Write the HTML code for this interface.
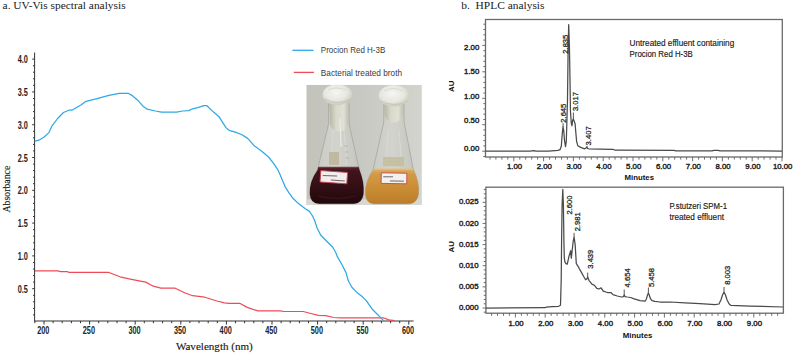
<!DOCTYPE html>
<html><head><meta charset="utf-8"><style>
html,body{margin:0;padding:0;background:#fff;}
body{width:793px;height:355px;overflow:hidden;}
svg{display:block;}
.ser{font-family:"Liberation Serif",serif;fill:#1a1a1a;stroke:#1a1a1a;stroke-width:0.15px;}
.tl{font-family:"Liberation Sans",sans-serif;font-weight:bold;font-size:11px;fill:#222;}
.lg{font-family:"Liberation Sans",sans-serif;font-size:9.2px;fill:#3a3a3a;}
.hl{font-family:"Liberation Sans",sans-serif;font-size:7.8px;fill:#222;stroke:#222;stroke-width:0.4px;}
.hb{font-family:"Liberation Sans",sans-serif;font-size:7.8px;font-weight:bold;fill:#111;}
.pk{font-family:"Liberation Sans",sans-serif;font-size:7.6px;fill:#222;stroke:#222;stroke-width:0.25px;}
.hg{font-family:"Liberation Sans",sans-serif;font-size:8.4px;fill:#1a1a1a;stroke:#1a1a1a;stroke-width:0.15px;}
.fr{fill:none;stroke:#6a6a6a;stroke-width:1.3;}
.tk{stroke:#606060;stroke-width:0.9;}
</style></head><body>
<svg width="793" height="355" viewBox="0 0 793 355">
<rect width="793" height="355" fill="#fff"/>
<!-- titles -->
<text x="2.6" y="9.4" class="ser" font-size="11.4px" style="stroke-width:0" textLength="123" lengthAdjust="spacingAndGlyphs">a. UV-Vis spectral analysis</text>
<text x="461.3" y="9.4" class="ser" font-size="11.4px" style="stroke-width:0" textLength="83.2" lengthAdjust="spacingAndGlyphs" xml:space="preserve">b.  HPLC analysis</text>

<!-- LEFT CHART -->
<g stroke="#333" stroke-width="1">
<line x1="34.6" y1="52.5" x2="34.6" y2="321.5"/>
<line x1="34.5" y1="321" x2="413.6" y2="321"/>
<line x1="33" y1="314.9" x2="34.6" y2="314.9"/>
<line x1="33" y1="308.4" x2="34.6" y2="308.4"/>
<line x1="33" y1="301.8" x2="34.6" y2="301.8"/>
<line x1="33" y1="295.3" x2="34.6" y2="295.3"/>
<line x1="32.2" y1="288.7" x2="34.6" y2="288.7"/>
<line x1="33" y1="282.1" x2="34.6" y2="282.1"/>
<line x1="33" y1="275.6" x2="34.6" y2="275.6"/>
<line x1="33" y1="269.0" x2="34.6" y2="269.0"/>
<line x1="33" y1="262.5" x2="34.6" y2="262.5"/>
<line x1="32.2" y1="255.9" x2="34.6" y2="255.9"/>
<line x1="33" y1="249.3" x2="34.6" y2="249.3"/>
<line x1="33" y1="242.8" x2="34.6" y2="242.8"/>
<line x1="33" y1="236.2" x2="34.6" y2="236.2"/>
<line x1="33" y1="229.7" x2="34.6" y2="229.7"/>
<line x1="32.2" y1="223.1" x2="34.6" y2="223.1"/>
<line x1="33" y1="216.5" x2="34.6" y2="216.5"/>
<line x1="33" y1="210.0" x2="34.6" y2="210.0"/>
<line x1="33" y1="203.4" x2="34.6" y2="203.4"/>
<line x1="33" y1="196.9" x2="34.6" y2="196.9"/>
<line x1="32.2" y1="190.3" x2="34.6" y2="190.3"/>
<line x1="33" y1="183.7" x2="34.6" y2="183.7"/>
<line x1="33" y1="177.2" x2="34.6" y2="177.2"/>
<line x1="33" y1="170.6" x2="34.6" y2="170.6"/>
<line x1="33" y1="164.1" x2="34.6" y2="164.1"/>
<line x1="32.2" y1="157.5" x2="34.6" y2="157.5"/>
<line x1="33" y1="150.9" x2="34.6" y2="150.9"/>
<line x1="33" y1="144.4" x2="34.6" y2="144.4"/>
<line x1="33" y1="137.8" x2="34.6" y2="137.8"/>
<line x1="33" y1="131.3" x2="34.6" y2="131.3"/>
<line x1="32.2" y1="124.7" x2="34.6" y2="124.7"/>
<line x1="33" y1="118.1" x2="34.6" y2="118.1"/>
<line x1="33" y1="111.6" x2="34.6" y2="111.6"/>
<line x1="33" y1="105.0" x2="34.6" y2="105.0"/>
<line x1="33" y1="98.5" x2="34.6" y2="98.5"/>
<line x1="32.2" y1="91.9" x2="34.6" y2="91.9"/>
<line x1="33" y1="85.3" x2="34.6" y2="85.3"/>
<line x1="33" y1="78.8" x2="34.6" y2="78.8"/>
<line x1="33" y1="72.2" x2="34.6" y2="72.2"/>
<line x1="33" y1="65.7" x2="34.6" y2="65.7"/>
<line x1="32.2" y1="59.1" x2="34.6" y2="59.1"/>
<line x1="34.9" y1="321" x2="34.9" y2="323.2"/>
<line x1="44.0" y1="321" x2="44.0" y2="324.6"/>
<line x1="53.1" y1="321" x2="53.1" y2="323.2"/>
<line x1="62.2" y1="321" x2="62.2" y2="323.2"/>
<line x1="71.4" y1="321" x2="71.4" y2="323.2"/>
<line x1="80.5" y1="321" x2="80.5" y2="323.2"/>
<line x1="89.6" y1="321" x2="89.6" y2="324.6"/>
<line x1="98.7" y1="321" x2="98.7" y2="323.2"/>
<line x1="107.8" y1="321" x2="107.8" y2="323.2"/>
<line x1="117.0" y1="321" x2="117.0" y2="323.2"/>
<line x1="126.1" y1="321" x2="126.1" y2="323.2"/>
<line x1="135.2" y1="321" x2="135.2" y2="324.6"/>
<line x1="144.3" y1="321" x2="144.3" y2="323.2"/>
<line x1="153.4" y1="321" x2="153.4" y2="323.2"/>
<line x1="162.6" y1="321" x2="162.6" y2="323.2"/>
<line x1="171.7" y1="321" x2="171.7" y2="323.2"/>
<line x1="180.8" y1="321" x2="180.8" y2="324.6"/>
<line x1="189.9" y1="321" x2="189.9" y2="323.2"/>
<line x1="199.0" y1="321" x2="199.0" y2="323.2"/>
<line x1="208.2" y1="321" x2="208.2" y2="323.2"/>
<line x1="217.3" y1="321" x2="217.3" y2="323.2"/>
<line x1="226.4" y1="321" x2="226.4" y2="324.6"/>
<line x1="235.5" y1="321" x2="235.5" y2="323.2"/>
<line x1="244.6" y1="321" x2="244.6" y2="323.2"/>
<line x1="253.8" y1="321" x2="253.8" y2="323.2"/>
<line x1="262.9" y1="321" x2="262.9" y2="323.2"/>
<line x1="272.0" y1="321" x2="272.0" y2="324.6"/>
<line x1="281.1" y1="321" x2="281.1" y2="323.2"/>
<line x1="290.2" y1="321" x2="290.2" y2="323.2"/>
<line x1="299.4" y1="321" x2="299.4" y2="323.2"/>
<line x1="308.5" y1="321" x2="308.5" y2="323.2"/>
<line x1="317.6" y1="321" x2="317.6" y2="324.6"/>
<line x1="326.7" y1="321" x2="326.7" y2="323.2"/>
<line x1="335.8" y1="321" x2="335.8" y2="323.2"/>
<line x1="345.0" y1="321" x2="345.0" y2="323.2"/>
<line x1="354.1" y1="321" x2="354.1" y2="323.2"/>
<line x1="363.2" y1="321" x2="363.2" y2="324.6"/>
<line x1="372.3" y1="321" x2="372.3" y2="323.2"/>
<line x1="381.4" y1="321" x2="381.4" y2="323.2"/>
<line x1="390.6" y1="321" x2="390.6" y2="323.2"/>
<line x1="399.7" y1="321" x2="399.7" y2="323.2"/>
<line x1="408.8" y1="321" x2="408.8" y2="324.6"/>
</g>
<text x="27.9" y="63.2" text-anchor="end" class="tl" transform="translate(28 0) scale(0.665 1) translate(-28 0)">4.0</text>
<text x="27.9" y="96.0" text-anchor="end" class="tl" transform="translate(28 0) scale(0.665 1) translate(-28 0)">3.5</text>
<text x="27.9" y="128.8" text-anchor="end" class="tl" transform="translate(28 0) scale(0.665 1) translate(-28 0)">3.0</text>
<text x="27.9" y="161.6" text-anchor="end" class="tl" transform="translate(28 0) scale(0.665 1) translate(-28 0)">2.5</text>
<text x="27.9" y="194.4" text-anchor="end" class="tl" transform="translate(28 0) scale(0.665 1) translate(-28 0)">2.0</text>
<text x="27.9" y="227.2" text-anchor="end" class="tl" transform="translate(28 0) scale(0.665 1) translate(-28 0)">1.5</text>
<text x="27.9" y="260.0" text-anchor="end" class="tl" transform="translate(28 0) scale(0.665 1) translate(-28 0)">1.0</text>
<text x="27.9" y="292.8" text-anchor="end" class="tl" transform="translate(28 0) scale(0.665 1) translate(-28 0)">0.5</text>
<text x="43.3" y="334" text-anchor="middle" class="tl" transform="translate(43.3 0) scale(0.665 1) translate(-43.3 0)">200</text>
<text x="88.9" y="334" text-anchor="middle" class="tl" transform="translate(88.9 0) scale(0.665 1) translate(-88.9 0)">250</text>
<text x="134.5" y="334" text-anchor="middle" class="tl" transform="translate(134.5 0) scale(0.665 1) translate(-134.5 0)">300</text>
<text x="180.1" y="334" text-anchor="middle" class="tl" transform="translate(180.1 0) scale(0.665 1) translate(-180.1 0)">350</text>
<text x="225.7" y="334" text-anchor="middle" class="tl" transform="translate(225.7 0) scale(0.665 1) translate(-225.7 0)">400</text>
<text x="271.3" y="334" text-anchor="middle" class="tl" transform="translate(271.3 0) scale(0.665 1) translate(-271.3 0)">450</text>
<text x="316.9" y="334" text-anchor="middle" class="tl" transform="translate(316.9 0) scale(0.665 1) translate(-316.9 0)">500</text>
<text x="362.5" y="334" text-anchor="middle" class="tl" transform="translate(362.5 0) scale(0.665 1) translate(-362.5 0)">550</text>
<text x="408.1" y="334" text-anchor="middle" class="tl" transform="translate(408.1 0) scale(0.665 1) translate(-408.1 0)">600</text>
<text transform="translate(10.3 212.6) rotate(-90)" class="ser" font-size="10.3px" textLength="46.9" lengthAdjust="spacingAndGlyphs">Absorbance</text>
<text x="175.9" y="350.4" class="ser" font-size="11.1px" textLength="76.9" lengthAdjust="spacingAndGlyphs">Wavelength (nm)</text>

<polyline points="35.0,270.9 58.2,270.9 60.3,271.6 67.3,271.6 68.7,272.3 108.2,272.3 120.1,276.8 129.1,278.9 136.6,280.4 145.7,282.1 153.3,286.2 160.9,288.2 175.2,288.2 185.1,293.0 192.6,295.7 204.7,297.2 216.9,301.0 224.4,302.8 229.1,303.3 239.7,303.3 247.2,307.4 257.8,310.9 280.5,310.9 283.6,311.5 303.2,311.5 310.8,313.5 318.4,315.4 325.9,315.7 333.5,317.5 340.0,317.9 383.1,317.8 389.0,319.9 394.5,320.6" fill="none" stroke="#ee4b57" stroke-width="1.2" stroke-linejoin="round"/>
<polyline points="35.0,141.1 38.9,140.2 43.8,137.2 48.7,132.9 51.7,126.4 57.6,118.5 63.5,112.5 69.4,110.0 72.4,110.0 81.3,104.7 85.2,101.7 97.0,98.7 108.9,95.4 119.1,93.3 128.2,93.3 132.7,95.9 138.0,100.4 142.5,105.7 147.1,109.2 155.4,111.0 161.5,112.1 176.6,112.1 182.6,111.0 188.7,110.6 192.5,108.8 197.8,107.7 203.8,105.7 206.9,105.7 213.6,112.1 219.0,116.7 222.9,122.9 226.0,127.6 229.1,130.3 235.3,132.2 241.5,134.5 247.7,138.4 253.9,145.4 261.8,151.3 268.5,157.0 273.0,162.6 277.6,169.3 279.8,173.9 282.1,179.5 285.5,187.4 289.5,193.6 292.9,198.3 298.5,203.6 305.3,208.7 309.2,211.1 312.6,216.0 314.8,221.0 317.2,228.2 320.8,235.3 326.7,241.3 332.7,247.3 335.5,252.0 337.5,256.9 342.3,265.2 345.9,272.4 348.3,280.8 351.9,287.3 357.6,293.1 362.7,297.1 366.5,300.9 369.0,304.7 372.8,309.8 377.3,314.3 380.5,317.4 383.6,320.6" fill="none" stroke="#2ea9e5" stroke-width="1.25" stroke-linejoin="round"/>

<!-- legend -->
<line x1="292.4" y1="50.3" x2="313.5" y2="50.3" stroke="#2ea9e5" stroke-width="1.3"/>
<text x="320.8" y="53" class="lg" textLength="64.5" lengthAdjust="spacingAndGlyphs">Procion Red H-3B</text>
<line x1="293.8" y1="72.4" x2="313.9" y2="72.4" stroke="#ee4b57" stroke-width="1.3"/>
<text x="320.8" y="75.5" class="lg" textLength="81.3" lengthAdjust="spacingAndGlyphs">Bacterial treated broth</text>

<!-- PHOTO -->
<defs>
<linearGradient id="pbg" x1="0" y1="0" x2="1" y2="0">
<stop offset="0" stop-color="#c3c3bc"/><stop offset="0.45" stop-color="#c8c8c2"/><stop offset="1" stop-color="#d4d4cf"/>
</linearGradient>
<linearGradient id="liq1" x1="0" y1="0" x2="0" y2="1">
<stop offset="0" stop-color="#5c2630"/><stop offset="0.1" stop-color="#42141c"/><stop offset="0.55" stop-color="#330e15"/><stop offset="1" stop-color="#20080b"/>
</linearGradient>
<linearGradient id="liq2" x1="0" y1="0" x2="0" y2="1">
<stop offset="0" stop-color="#ddb068"/><stop offset="0.15" stop-color="#d29b46"/><stop offset="0.6" stop-color="#c98b33"/><stop offset="1" stop-color="#bd7c2a"/>
</linearGradient>
<radialGradient id="cot" cx="0.45" cy="0.4" r="0.62">
<stop offset="0" stop-color="#f5f5f1"/><stop offset="0.6" stop-color="#e8e8e2"/><stop offset="1" stop-color="#c8cabc"/>
</radialGradient>
<linearGradient id="neck" x1="0" y1="0" x2="1" y2="0">
<stop offset="0" stop-color="#b3b5a2"/><stop offset="0.35" stop-color="#d8d8cb"/><stop offset="0.75" stop-color="#e0e0d4"/><stop offset="1" stop-color="#c0c1b1"/>
</linearGradient>
<linearGradient id="glass" x1="0" y1="0" x2="1" y2="0">
<stop offset="0" stop-color="#bdbdb6"/><stop offset="0.2" stop-color="#cdcdc7"/><stop offset="0.5" stop-color="#d3d3cd"/><stop offset="0.8" stop-color="#cacac4"/><stop offset="1" stop-color="#bcbcb5"/>
</linearGradient>
<clipPath id="pclip"><rect x="306.3" y="84.8" width="115.6" height="120.3"/></clipPath>
</defs>
<g clip-path="url(#pclip)">
<rect x="306.3" y="84.8" width="115.6" height="120.3" fill="url(#pbg)"/>
<rect x="306.3" y="199.5" width="115.6" height="6" fill="#d8d8d3"/>
<!-- flask 1 glass body -->
<path d="M328.6 104 L349 104 L349 124 L359.5 170 Q364.5 182 363.5 194 Q362 203.5 354 203.8 L319 203.8 Q310.5 203.5 309.8 194 Q309 182 317.5 170 L328.6 124 Z" fill="url(#glass)" stroke="#a2a29b" stroke-width="0.7"/>
<path d="M333 130 L331 165 M344 130 L346.5 165" stroke="#dadad5" stroke-width="0.8"/>
<!-- flask 1 liquid -->
<path d="M318.2 167 L358.8 167 L359.5 170 Q364.5 182 363.5 194 Q362 203.5 354 203.8 L319 203.8 Q310.5 203.5 309.8 194 Q309 182 317.5 170 Z" fill="url(#liq1)"/>
<path d="M318.4 167.2 L358.6 167.2" stroke="#7a4a55" stroke-width="0.8"/>
<path d="M318 196 Q336 201 356 196" stroke="#4a1a26" stroke-width="1.2" fill="none" opacity="0.6"/>
<!-- flask1 neck cotton -->
<path d="M329.2 102 L348.5 102 L348.4 124 Q346 132 339 131.5 Q331.5 131 330 124 Z" fill="url(#neck)"/>
<path d="M339.8 118 L341.2 147" stroke="#ececE8" stroke-width="1.1"/>
<!-- flask1 cotton top -->
<ellipse cx="337.4" cy="94.6" rx="14.8" ry="10.3" fill="url(#cot)"/>
<path d="M324.5 99 Q337 106 351 99" stroke="#c5c7b9" stroke-width="1" fill="none"/>
<path d="M328 90 Q336 86 346 90" stroke="#d3d4c9" stroke-width="0.8" fill="none"/>
<!-- flask 1 glass details -->
<rect x="329" y="152" width="10" height="13" fill="#b9b093" opacity="0.75"/>
<path d="M344 146 L348 146 M345 152 L348.5 152 M345.5 158 L349.5 158" stroke="#a8a398" stroke-width="0.6"/>
<!-- label 1 -->
<g transform="rotate(4 333.8 177.2)">
<rect x="320.4" y="171.5" width="26.8" height="11.4" fill="#f2eeee" stroke="#c94452" stroke-width="0.9"/>
<path d="M322.6 176.3 L337 175.8 M331 180.2 L345 180.2" stroke="#4a3a3a" stroke-width="0.75"/>
</g>
<!-- flask 2 glass body -->
<path d="M383.8 104 L404 104 L404 122 L413.5 170 Q419.5 182 418.5 194 Q417 203.5 409 203.8 L374 203.8 Q366 203.5 365.5 194 Q365 182 373 170 L383.8 122 Z" fill="url(#glass)" stroke="#a2a29b" stroke-width="0.7"/>
<path d="M388 130 L386 165 M399 130 L401.5 165" stroke="#dadad5" stroke-width="0.8"/>
<!-- flask2 liquid -->
<path d="M373.3 168.8 L413.3 168.8 L413.5 170 Q419.5 182 418.5 194 Q417 203.5 409 203.8 L374 203.8 Q366 203.5 365.5 194 Q365 182 373 170 Z" fill="url(#liq2)"/>
<path d="M373.4 169.1 L413.2 169.1" stroke="#e9c98a" stroke-width="0.9"/>
<!-- flask2 neck cotton -->
<path d="M384 102 L403 102 L402.8 114 Q401 122.8 393.5 122.6 Q386 122.4 384.6 114 Z" fill="url(#neck)"/>
<!-- flask2 cotton top -->
<ellipse cx="393.9" cy="95.8" rx="15.3" ry="10.8" fill="url(#cot)"/>
<path d="M379.5 101 Q394 108 408.5 101" stroke="#c5c7b9" stroke-width="1" fill="none"/>
<path d="M384 91 Q393 86 403 91" stroke="#d3d4c9" stroke-width="0.8" fill="none"/>
<rect x="383" y="157" width="21" height="9.2" fill="#c2b996" opacity="0.75"/>
<!-- label 2 -->
<g transform="rotate(1 394 178.2)">
<rect x="381.2" y="173" width="25.6" height="10.6" fill="#f3f0f0" stroke="#c94452" stroke-width="0.9"/>
<path d="M383.2 177 L393 176.8 M390 181 L404 181" stroke="#4a3a3a" stroke-width="0.75"/>
</g>
</g>


<!-- HPLC TOP -->
<rect x="485.5" y="19.5" width="296.79999999999995" height="137.5" class="fr"/>
<line x1="483.3" y1="156.5" x2="485.5" y2="156.5" class="tk"/>
<line x1="482.2" y1="151.2" x2="485.5" y2="151.2" class="tk"/>
<line x1="483.3" y1="145.9" x2="485.5" y2="145.9" class="tk"/>
<line x1="483.3" y1="140.6" x2="485.5" y2="140.6" class="tk"/>
<line x1="483.3" y1="135.3" x2="485.5" y2="135.3" class="tk"/>
<line x1="483.3" y1="130.0" x2="485.5" y2="130.0" class="tk"/>
<line x1="482.2" y1="124.7" x2="485.5" y2="124.7" class="tk"/>
<line x1="483.3" y1="119.5" x2="485.5" y2="119.5" class="tk"/>
<line x1="483.3" y1="114.2" x2="485.5" y2="114.2" class="tk"/>
<line x1="483.3" y1="108.9" x2="485.5" y2="108.9" class="tk"/>
<line x1="483.3" y1="103.6" x2="485.5" y2="103.6" class="tk"/>
<line x1="482.2" y1="98.3" x2="485.5" y2="98.3" class="tk"/>
<line x1="483.3" y1="93.0" x2="485.5" y2="93.0" class="tk"/>
<line x1="483.3" y1="87.7" x2="485.5" y2="87.7" class="tk"/>
<line x1="483.3" y1="82.4" x2="485.5" y2="82.4" class="tk"/>
<line x1="483.3" y1="77.1" x2="485.5" y2="77.1" class="tk"/>
<line x1="482.2" y1="71.8" x2="485.5" y2="71.8" class="tk"/>
<line x1="483.3" y1="66.6" x2="485.5" y2="66.6" class="tk"/>
<line x1="483.3" y1="61.3" x2="485.5" y2="61.3" class="tk"/>
<line x1="483.3" y1="56.0" x2="485.5" y2="56.0" class="tk"/>
<line x1="483.3" y1="50.7" x2="485.5" y2="50.7" class="tk"/>
<line x1="482.2" y1="45.4" x2="485.5" y2="45.4" class="tk"/>
<line x1="483.3" y1="40.1" x2="485.5" y2="40.1" class="tk"/>
<line x1="483.3" y1="34.8" x2="485.5" y2="34.8" class="tk"/>
<line x1="483.3" y1="29.5" x2="485.5" y2="29.5" class="tk"/>
<line x1="483.3" y1="24.2" x2="485.5" y2="24.2" class="tk"/>
<line x1="490.0" y1="157.0" x2="490.0" y2="159.6" class="tk"/>
<line x1="495.9" y1="157.0" x2="495.9" y2="159.6" class="tk"/>
<line x1="501.9" y1="157.0" x2="501.9" y2="159.6" class="tk"/>
<line x1="507.8" y1="157.0" x2="507.8" y2="159.6" class="tk"/>
<line x1="513.8" y1="157.0" x2="513.8" y2="161.3" class="tk"/>
<line x1="519.8" y1="157.0" x2="519.8" y2="159.6" class="tk"/>
<line x1="525.7" y1="157.0" x2="525.7" y2="159.6" class="tk"/>
<line x1="531.7" y1="157.0" x2="531.7" y2="159.6" class="tk"/>
<line x1="537.6" y1="157.0" x2="537.6" y2="159.6" class="tk"/>
<line x1="543.6" y1="157.0" x2="543.6" y2="161.3" class="tk"/>
<line x1="549.6" y1="157.0" x2="549.6" y2="159.6" class="tk"/>
<line x1="555.5" y1="157.0" x2="555.5" y2="159.6" class="tk"/>
<line x1="561.5" y1="157.0" x2="561.5" y2="159.6" class="tk"/>
<line x1="567.4" y1="157.0" x2="567.4" y2="159.6" class="tk"/>
<line x1="573.4" y1="157.0" x2="573.4" y2="161.3" class="tk"/>
<line x1="579.4" y1="157.0" x2="579.4" y2="159.6" class="tk"/>
<line x1="585.3" y1="157.0" x2="585.3" y2="159.6" class="tk"/>
<line x1="591.3" y1="157.0" x2="591.3" y2="159.6" class="tk"/>
<line x1="597.2" y1="157.0" x2="597.2" y2="159.6" class="tk"/>
<line x1="603.2" y1="157.0" x2="603.2" y2="161.3" class="tk"/>
<line x1="609.2" y1="157.0" x2="609.2" y2="159.6" class="tk"/>
<line x1="615.1" y1="157.0" x2="615.1" y2="159.6" class="tk"/>
<line x1="621.1" y1="157.0" x2="621.1" y2="159.6" class="tk"/>
<line x1="627.0" y1="157.0" x2="627.0" y2="159.6" class="tk"/>
<line x1="633.0" y1="157.0" x2="633.0" y2="161.3" class="tk"/>
<line x1="639.0" y1="157.0" x2="639.0" y2="159.6" class="tk"/>
<line x1="644.9" y1="157.0" x2="644.9" y2="159.6" class="tk"/>
<line x1="650.9" y1="157.0" x2="650.9" y2="159.6" class="tk"/>
<line x1="656.8" y1="157.0" x2="656.8" y2="159.6" class="tk"/>
<line x1="662.8" y1="157.0" x2="662.8" y2="161.3" class="tk"/>
<line x1="668.8" y1="157.0" x2="668.8" y2="159.6" class="tk"/>
<line x1="674.7" y1="157.0" x2="674.7" y2="159.6" class="tk"/>
<line x1="680.7" y1="157.0" x2="680.7" y2="159.6" class="tk"/>
<line x1="686.6" y1="157.0" x2="686.6" y2="159.6" class="tk"/>
<line x1="692.6" y1="157.0" x2="692.6" y2="161.3" class="tk"/>
<line x1="698.6" y1="157.0" x2="698.6" y2="159.6" class="tk"/>
<line x1="704.5" y1="157.0" x2="704.5" y2="159.6" class="tk"/>
<line x1="710.5" y1="157.0" x2="710.5" y2="159.6" class="tk"/>
<line x1="716.4" y1="157.0" x2="716.4" y2="159.6" class="tk"/>
<line x1="722.4" y1="157.0" x2="722.4" y2="161.3" class="tk"/>
<line x1="728.4" y1="157.0" x2="728.4" y2="159.6" class="tk"/>
<line x1="734.3" y1="157.0" x2="734.3" y2="159.6" class="tk"/>
<line x1="740.3" y1="157.0" x2="740.3" y2="159.6" class="tk"/>
<line x1="746.2" y1="157.0" x2="746.2" y2="159.6" class="tk"/>
<line x1="752.2" y1="157.0" x2="752.2" y2="161.3" class="tk"/>
<line x1="758.2" y1="157.0" x2="758.2" y2="159.6" class="tk"/>
<line x1="764.1" y1="157.0" x2="764.1" y2="159.6" class="tk"/>
<line x1="770.1" y1="157.0" x2="770.1" y2="159.6" class="tk"/>
<line x1="776.0" y1="157.0" x2="776.0" y2="159.6" class="tk"/>
<line x1="782.0" y1="157.0" x2="782.0" y2="161.3" class="tk"/>
<polyline points="485.5,151.2 530.0,151.2 532.0,150.8 534.0,150.7 536.0,151.2 548.0,151.2 552.0,150.8 558.0,150.4 560.0,149.7 561.3,146.3 562.3,133.3 563.0,126.8 563.7,130.3 564.5,140.3 565.5,146.7 566.3,141.3 567.5,100.3 568.1,50.4 568.7,24.6 569.4,45.4 570.1,85.3 570.4,110.3 571.3,123.3 572.0,125.8 572.6,120.8 573.3,118.9 574.2,121.3 575.1,123.8 575.8,132.3 576.6,141.3 577.9,145.8 580.7,147.4 584.6,148.8 586.2,147.9 586.9,147.2 587.6,148.5 589.2,149.0 600.0,149.2 613.0,149.3 615.0,150.2 674.0,150.4 676.0,150.9 712.0,150.9 714.0,150.4 718.0,150.4 720.0,150.9 782.0,151.0" fill="none" stroke="#4a4a4a" stroke-width="1.25" stroke-linejoin="round"/>

<!-- HPLC BOTTOM -->
<rect x="485.9" y="187.2" width="297.5" height="126.0" class="fr"/>
<line x1="483.7" y1="312.2" x2="485.9" y2="312.2" class="tk"/>
<line x1="482.6" y1="308.0" x2="485.9" y2="308.0" class="tk"/>
<line x1="483.7" y1="303.8" x2="485.9" y2="303.8" class="tk"/>
<line x1="483.7" y1="299.5" x2="485.9" y2="299.5" class="tk"/>
<line x1="483.7" y1="295.3" x2="485.9" y2="295.3" class="tk"/>
<line x1="483.7" y1="291.1" x2="485.9" y2="291.1" class="tk"/>
<line x1="482.6" y1="286.9" x2="485.9" y2="286.9" class="tk"/>
<line x1="483.7" y1="282.6" x2="485.9" y2="282.6" class="tk"/>
<line x1="483.7" y1="278.4" x2="485.9" y2="278.4" class="tk"/>
<line x1="483.7" y1="274.2" x2="485.9" y2="274.2" class="tk"/>
<line x1="483.7" y1="269.9" x2="485.9" y2="269.9" class="tk"/>
<line x1="482.6" y1="265.7" x2="485.9" y2="265.7" class="tk"/>
<line x1="483.7" y1="261.5" x2="485.9" y2="261.5" class="tk"/>
<line x1="483.7" y1="257.3" x2="485.9" y2="257.3" class="tk"/>
<line x1="483.7" y1="253.0" x2="485.9" y2="253.0" class="tk"/>
<line x1="483.7" y1="248.8" x2="485.9" y2="248.8" class="tk"/>
<line x1="482.6" y1="244.6" x2="485.9" y2="244.6" class="tk"/>
<line x1="483.7" y1="240.4" x2="485.9" y2="240.4" class="tk"/>
<line x1="483.7" y1="236.1" x2="485.9" y2="236.1" class="tk"/>
<line x1="483.7" y1="231.9" x2="485.9" y2="231.9" class="tk"/>
<line x1="483.7" y1="227.7" x2="485.9" y2="227.7" class="tk"/>
<line x1="482.6" y1="223.4" x2="485.9" y2="223.4" class="tk"/>
<line x1="483.7" y1="219.2" x2="485.9" y2="219.2" class="tk"/>
<line x1="483.7" y1="215.0" x2="485.9" y2="215.0" class="tk"/>
<line x1="483.7" y1="210.8" x2="485.9" y2="210.8" class="tk"/>
<line x1="483.7" y1="206.5" x2="485.9" y2="206.5" class="tk"/>
<line x1="482.6" y1="202.3" x2="485.9" y2="202.3" class="tk"/>
<line x1="483.7" y1="198.1" x2="485.9" y2="198.1" class="tk"/>
<line x1="483.7" y1="193.8" x2="485.9" y2="193.8" class="tk"/>
<line x1="483.7" y1="189.6" x2="485.9" y2="189.6" class="tk"/>
<line x1="491.6" y1="313.2" x2="491.6" y2="315.8" class="tk"/>
<line x1="497.5" y1="313.2" x2="497.5" y2="315.8" class="tk"/>
<line x1="503.5" y1="313.2" x2="503.5" y2="315.8" class="tk"/>
<line x1="509.4" y1="313.2" x2="509.4" y2="315.8" class="tk"/>
<line x1="515.4" y1="313.2" x2="515.4" y2="317.5" class="tk"/>
<line x1="521.4" y1="313.2" x2="521.4" y2="315.8" class="tk"/>
<line x1="527.3" y1="313.2" x2="527.3" y2="315.8" class="tk"/>
<line x1="533.3" y1="313.2" x2="533.3" y2="315.8" class="tk"/>
<line x1="539.2" y1="313.2" x2="539.2" y2="315.8" class="tk"/>
<line x1="545.2" y1="313.2" x2="545.2" y2="317.5" class="tk"/>
<line x1="551.2" y1="313.2" x2="551.2" y2="315.8" class="tk"/>
<line x1="557.1" y1="313.2" x2="557.1" y2="315.8" class="tk"/>
<line x1="563.1" y1="313.2" x2="563.1" y2="315.8" class="tk"/>
<line x1="569.0" y1="313.2" x2="569.0" y2="315.8" class="tk"/>
<line x1="575.0" y1="313.2" x2="575.0" y2="317.5" class="tk"/>
<line x1="581.0" y1="313.2" x2="581.0" y2="315.8" class="tk"/>
<line x1="586.9" y1="313.2" x2="586.9" y2="315.8" class="tk"/>
<line x1="592.9" y1="313.2" x2="592.9" y2="315.8" class="tk"/>
<line x1="598.8" y1="313.2" x2="598.8" y2="315.8" class="tk"/>
<line x1="604.8" y1="313.2" x2="604.8" y2="317.5" class="tk"/>
<line x1="610.8" y1="313.2" x2="610.8" y2="315.8" class="tk"/>
<line x1="616.7" y1="313.2" x2="616.7" y2="315.8" class="tk"/>
<line x1="622.7" y1="313.2" x2="622.7" y2="315.8" class="tk"/>
<line x1="628.6" y1="313.2" x2="628.6" y2="315.8" class="tk"/>
<line x1="634.6" y1="313.2" x2="634.6" y2="317.5" class="tk"/>
<line x1="640.6" y1="313.2" x2="640.6" y2="315.8" class="tk"/>
<line x1="646.5" y1="313.2" x2="646.5" y2="315.8" class="tk"/>
<line x1="652.5" y1="313.2" x2="652.5" y2="315.8" class="tk"/>
<line x1="658.4" y1="313.2" x2="658.4" y2="315.8" class="tk"/>
<line x1="664.4" y1="313.2" x2="664.4" y2="317.5" class="tk"/>
<line x1="670.4" y1="313.2" x2="670.4" y2="315.8" class="tk"/>
<line x1="676.3" y1="313.2" x2="676.3" y2="315.8" class="tk"/>
<line x1="682.3" y1="313.2" x2="682.3" y2="315.8" class="tk"/>
<line x1="688.2" y1="313.2" x2="688.2" y2="315.8" class="tk"/>
<line x1="694.2" y1="313.2" x2="694.2" y2="317.5" class="tk"/>
<line x1="700.2" y1="313.2" x2="700.2" y2="315.8" class="tk"/>
<line x1="706.1" y1="313.2" x2="706.1" y2="315.8" class="tk"/>
<line x1="712.1" y1="313.2" x2="712.1" y2="315.8" class="tk"/>
<line x1="718.0" y1="313.2" x2="718.0" y2="315.8" class="tk"/>
<line x1="724.0" y1="313.2" x2="724.0" y2="317.5" class="tk"/>
<line x1="730.0" y1="313.2" x2="730.0" y2="315.8" class="tk"/>
<line x1="735.9" y1="313.2" x2="735.9" y2="315.8" class="tk"/>
<line x1="741.9" y1="313.2" x2="741.9" y2="315.8" class="tk"/>
<line x1="747.8" y1="313.2" x2="747.8" y2="315.8" class="tk"/>
<line x1="753.8" y1="313.2" x2="753.8" y2="317.5" class="tk"/>
<line x1="759.8" y1="313.2" x2="759.8" y2="315.8" class="tk"/>
<line x1="765.7" y1="313.2" x2="765.7" y2="315.8" class="tk"/>
<line x1="771.7" y1="313.2" x2="771.7" y2="315.8" class="tk"/>
<line x1="777.6" y1="313.2" x2="777.6" y2="315.8" class="tk"/>
<polyline points="486.0,308.1 545.0,307.7 546.2,307.1 552.4,306.7 558.6,306.3 560.5,305.2 561.2,280.2 561.6,240.2 562.1,205.2 562.8,189.4 563.4,205.2 563.9,240.2 564.3,258.2 565.0,262.1 566.0,263.6 567.3,264.2 569.0,256.2 570.7,250.7 571.3,258.1 572.2,250.2 573.2,241.2 574.1,237.2 575.2,245.1 575.8,255.2 576.3,263.7 578.6,267.1 579.2,268.6 581.3,272.1 583.5,276.3 585.6,279.8 587.0,278.7 587.7,277.0 588.4,279.0 589.1,280.6 591.9,284.1 594.7,285.5 596.8,288.3 598.9,289.0 601.1,287.9 603.2,291.1 607.4,292.5 610.9,292.5 613.0,294.6 617.3,296.0 621.5,297.0 623.4,296.6 624.2,295.0 625.0,296.6 627.1,297.0 630.6,297.5 634.2,298.9 640.0,300.6 645.0,301.2 646.5,298.7 647.6,294.7 648.4,293.0 649.3,295.2 650.5,298.7 652.0,300.7 655.0,301.4 660.0,302.0 670.0,302.0 685.0,302.8 700.0,303.7 715.0,304.6 719.0,304.0 721.0,299.7 722.6,294.7 724.0,292.4 725.4,294.7 727.0,299.7 729.0,303.8 731.0,305.4 750.0,306.1 783.0,307.0" fill="none" stroke="#4a4a4a" stroke-width="1.25" stroke-linejoin="round"/>

<text x="479.3" y="49.9" text-anchor="end" class="hl">2.00</text>
<text x="479.3" y="74.2" text-anchor="end" class="hl">1.50</text>
<text x="479.3" y="98.8" text-anchor="end" class="hl">1.00</text>
<text x="479.3" y="122.6" text-anchor="end" class="hl">0.50</text>
<text x="479.3" y="151.0" text-anchor="end" class="hl">0.00</text>
<text x="514.5" y="168.8" text-anchor="middle" class="hl">1.00</text>
<text x="544.3" y="168.8" text-anchor="middle" class="hl">2.00</text>
<text x="574.1" y="168.8" text-anchor="middle" class="hl">3.00</text>
<text x="603.9" y="168.8" text-anchor="middle" class="hl">4.00</text>
<text x="633.7" y="168.8" text-anchor="middle" class="hl">5.00</text>
<text x="663.5" y="168.8" text-anchor="middle" class="hl">6.00</text>
<text x="693.3" y="168.8" text-anchor="middle" class="hl">7.00</text>
<text x="723.1" y="168.8" text-anchor="middle" class="hl">8.00</text>
<text x="752.9" y="168.8" text-anchor="middle" class="hl">9.00</text>
<text x="782.7" y="168.8" text-anchor="middle" class="hl">10.00</text>
<text x="639.3" y="179.7" text-anchor="middle" class="hb">Minutes</text>
<text transform="translate(454 92) rotate(-90)" class="hb">AU</text>
<text x="478.5" y="204.4" text-anchor="end" class="hl">0.025</text>
<text x="478.5" y="225.5" text-anchor="end" class="hl">0.020</text>
<text x="478.5" y="246.7" text-anchor="end" class="hl">0.015</text>
<text x="478.5" y="267.8" text-anchor="end" class="hl">0.010</text>
<text x="478.5" y="289.0" text-anchor="end" class="hl">0.005</text>
<text x="478.5" y="310.1" text-anchor="end" class="hl">0.000</text>
<text x="516.0" y="325.5" text-anchor="middle" class="hl">1.00</text>
<text x="545.8" y="325.5" text-anchor="middle" class="hl">2.00</text>
<text x="575.6" y="325.5" text-anchor="middle" class="hl">3.00</text>
<text x="605.4" y="325.5" text-anchor="middle" class="hl">4.00</text>
<text x="635.2" y="325.5" text-anchor="middle" class="hl">5.00</text>
<text x="665.0" y="325.5" text-anchor="middle" class="hl">6.00</text>
<text x="694.8" y="325.5" text-anchor="middle" class="hl">7.00</text>
<text x="724.6" y="325.5" text-anchor="middle" class="hl">8.00</text>
<text x="754.4" y="325.5" text-anchor="middle" class="hl">9.00</text>
<text x="637.6" y="338.1" text-anchor="middle" class="hb">Minutes</text>
<text transform="translate(454 252.5) rotate(-90)" class="hb">AU</text>
<text x="629.6" y="45.7" class="hg" textLength="104.6" lengthAdjust="spacingAndGlyphs">Untreated effluent containing</text>
<text x="629.6" y="57.1" class="hg" textLength="63.2" lengthAdjust="spacingAndGlyphs">Procion Red H-3B</text>
<text x="669.4" y="209.2" class="hg" textLength="57.6" lengthAdjust="spacingAndGlyphs">P.stutzeri SPM-1</text>
<text x="669.4" y="220.3" class="hg" textLength="54.6" lengthAdjust="spacingAndGlyphs">treated effluent</text>
<text transform="translate(567.6 53.7) rotate(-90)" class="pk">2.835</text>
<text transform="translate(566.3 122.7) rotate(-90)" class="pk">2.645</text>
<text transform="translate(578.1 111.1) rotate(-90)" class="pk">3.017</text>
<text transform="translate(591.4 145.4) rotate(-90)" class="pk">3.407</text>
<text transform="translate(571.9 214.5) rotate(-90)" class="pk">2.600</text>
<text transform="translate(580.0 231.3) rotate(-90)" class="pk">2.981</text>
<text transform="translate(593 268.7) rotate(-90)" class="pk">3.439</text>
<text transform="translate(630.0 287.4) rotate(-90)" class="pk">4.654</text>
<text transform="translate(654.2 287) rotate(-90)" class="pk">5.458</text>
<text transform="translate(730.4 284.8) rotate(-90)" class="pk">8.003</text>
<line x1="563.1" y1="123.2" x2="563.1" y2="127" stroke="#444" stroke-width="0.9"/>
<line x1="573.4" y1="112.5" x2="573.4" y2="119" stroke="#444" stroke-width="0.9"/>
<line x1="587" y1="146" x2="587" y2="147.5" stroke="#444" stroke-width="0.9"/>
<line x1="574.1" y1="232.8" x2="574.1" y2="237" stroke="#444" stroke-width="0.9"/>
<line x1="587.7" y1="272.6" x2="587.7" y2="277" stroke="#444" stroke-width="0.9"/>
<line x1="624.2" y1="289.5" x2="624.2" y2="295" stroke="#444" stroke-width="0.9"/>
<line x1="648.4" y1="287.5" x2="648.4" y2="292.8" stroke="#444" stroke-width="0.9"/>
<line x1="724" y1="287" x2="724" y2="292.6" stroke="#444" stroke-width="0.9"/>
</svg>
</body></html>
